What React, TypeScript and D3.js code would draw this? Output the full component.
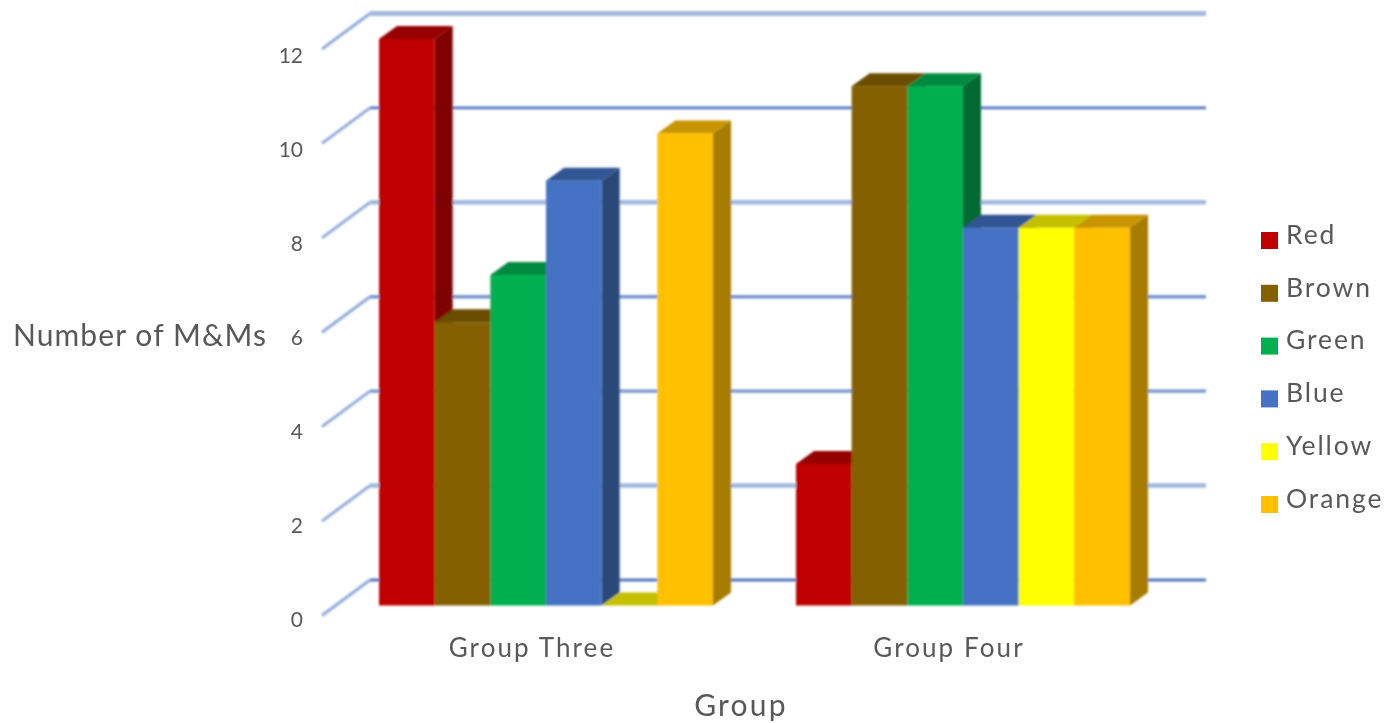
import React from "react";
import * as d3 from "d3";

const groups = ["Group Three", "Group Four"];
const seriesNames = ["Red", "Brown", "Green", "Blue", "Yellow", "Orange"];
const groupThree = [12, 6, 7, 9, 0, 10];
const groupFour = [3, 11, 11, 8, 8, 8];
const yTicks = [0, 2, 4, 6, 8, 10, 12];
const frontColors = ["#C00000", "#846000", "#00B050", "#4472C4", "#FFFF00", "#FFC000"];
const topColors = ["#960000", "#6B4E00", "#008A3F", "#335593", "#C4C000", "#C79500"];
const sideColors = ["#7F0000", "#5A4200", "#006B30", "#2B4879", "#A6A300", "#A67D00"];
const gridWidths = [2.8, 4.5, 3.4, 3.4, 4.5, 2.8, 5];
const gridColors = ["#4F76BE", "#A3B8DD", "#7594CC", "#7594CC", "#A3B8DD", "#4F76BE", "#A3B8DD"];

const W = 1384, H = 723;
const y = d3.scaleLinear().domain([0, 12]).range([605.5, 39]);
const groupX = d3.scaleOrdinal<string, number>().domain(groups).range([379, 796]);
const barX = d3.scaleBand<string>().domain(seriesNames).range([0, 334]).padding(0);
const DX = 18, DY = -13;
const BACK = -25.5, LEFTF = 10;
const FONT = "Lato, 'Open Sans', sans-serif";
const TEXT = "#595959";
const legendY = d3.scalePoint<string>().domain(seriesNames).range([240.5, 504.5]);
const tickY = d3.scaleLinear().domain([0, 12]).range([620, 56]);

function poly(p: [number, number][]) {
  return d3.line()(p)! + "Z";
}

function Bar({ gx, i, v }: { gx: number; i: number; v: number }) {
  const name = seriesNames[i];
  const x0 = gx + barX(name)!;
  const x1 = x0 + barX.bandwidth();
  const yt = y(v), yb = y(0);
  return (
    <g>
      <path d={poly([[x1, yt], [x1 + DX, yt + DY], [x1 + DX, yb + DY], [x1, yb]])} fill={sideColors[i]} />
      <path d={poly([[x0, yt], [x0 + DX, yt + DY], [x1 + DX, yt + DY], [x1, yt]])} fill={topColors[i]} />
      {v > 0 && <rect x={x0} y={yt} width={x1 - x0} height={yb - yt} fill={frontColors[i]} />}
    </g>
  );
}

export default function App() {
  return (
    <svg width={W} height={H} viewBox={`0 0 ${W} ${H}`}
      style={{ position: "absolute", left: 0, top: 0, background: "#fff", fontFamily: FONT }}>
      <defs>
        <filter id="soft" x="-5%" y="-5%" width="110%" height="110%">
          <feGaussianBlur stdDeviation="0.8" />
        </filter>
        <filter id="softText" x="-5%" y="-5%" width="110%" height="110%">
          <feGaussianBlur stdDeviation="0.35" />
        </filter>
      </defs>
      <g filter="url(#soft)">
        {yTicks.map((t, k) => (
          <g key={t} fill="none">
            <path stroke={gridColors[k]} strokeWidth={gridWidths[k]}
              d={`M370,${y(t) + BACK}L1206,${y(t) + BACK}`} />
            <path stroke="#8FAADC" strokeWidth={3}
              d={`M322,${y(t) + LEFTF}L370,${y(t) + BACK}`} />
          </g>
        ))}
        {groups.map((g, gi) => (
          <g key={g}>
            {(gi === 0 ? groupThree : groupFour).map((v, i) => (
              <Bar key={i} gx={groupX(g)} i={i} v={v} />
            ))}
          </g>
        ))}
      </g>
      <g filter="url(#softText)">
        {yTicks.map(t => (
          <text key={t} x={303} y={tickY(t)} dy="0.35em" textAnchor="end" fontSize={21} fill={TEXT}>{t}</text>
        ))}
        {groups.map(g => (
          <text key={g} x={groupX(g) + 153} y={648} dy="0.35em" textAnchor="middle"
            fontSize={26} letterSpacing={2.1} fill={TEXT}>{g}</text>
        ))}
        <text x={741} y={705} dy="0.35em" textAnchor="middle" fontSize={30} letterSpacing={2.2} fill={TEXT}>Group</text>
        <text x={13} y={335} dy="0.35em" fontSize={30} letterSpacing={1.1} fill={TEXT}>Number of M&amp;Ms</text>
        {seriesNames.map((s, i) => {
          const c = legendY(s)!;
          return (
            <g key={s}>
              <rect x={1261} y={c - 8.5} width={17} height={17} fill={frontColors[i]} />
              <text x={1286} y={c - 6} dy="0.35em" fontSize={26.5} letterSpacing={1.9} fill={TEXT}>{s}</text>
            </g>
          );
        })}
      </g>
    </svg>
  );
}
